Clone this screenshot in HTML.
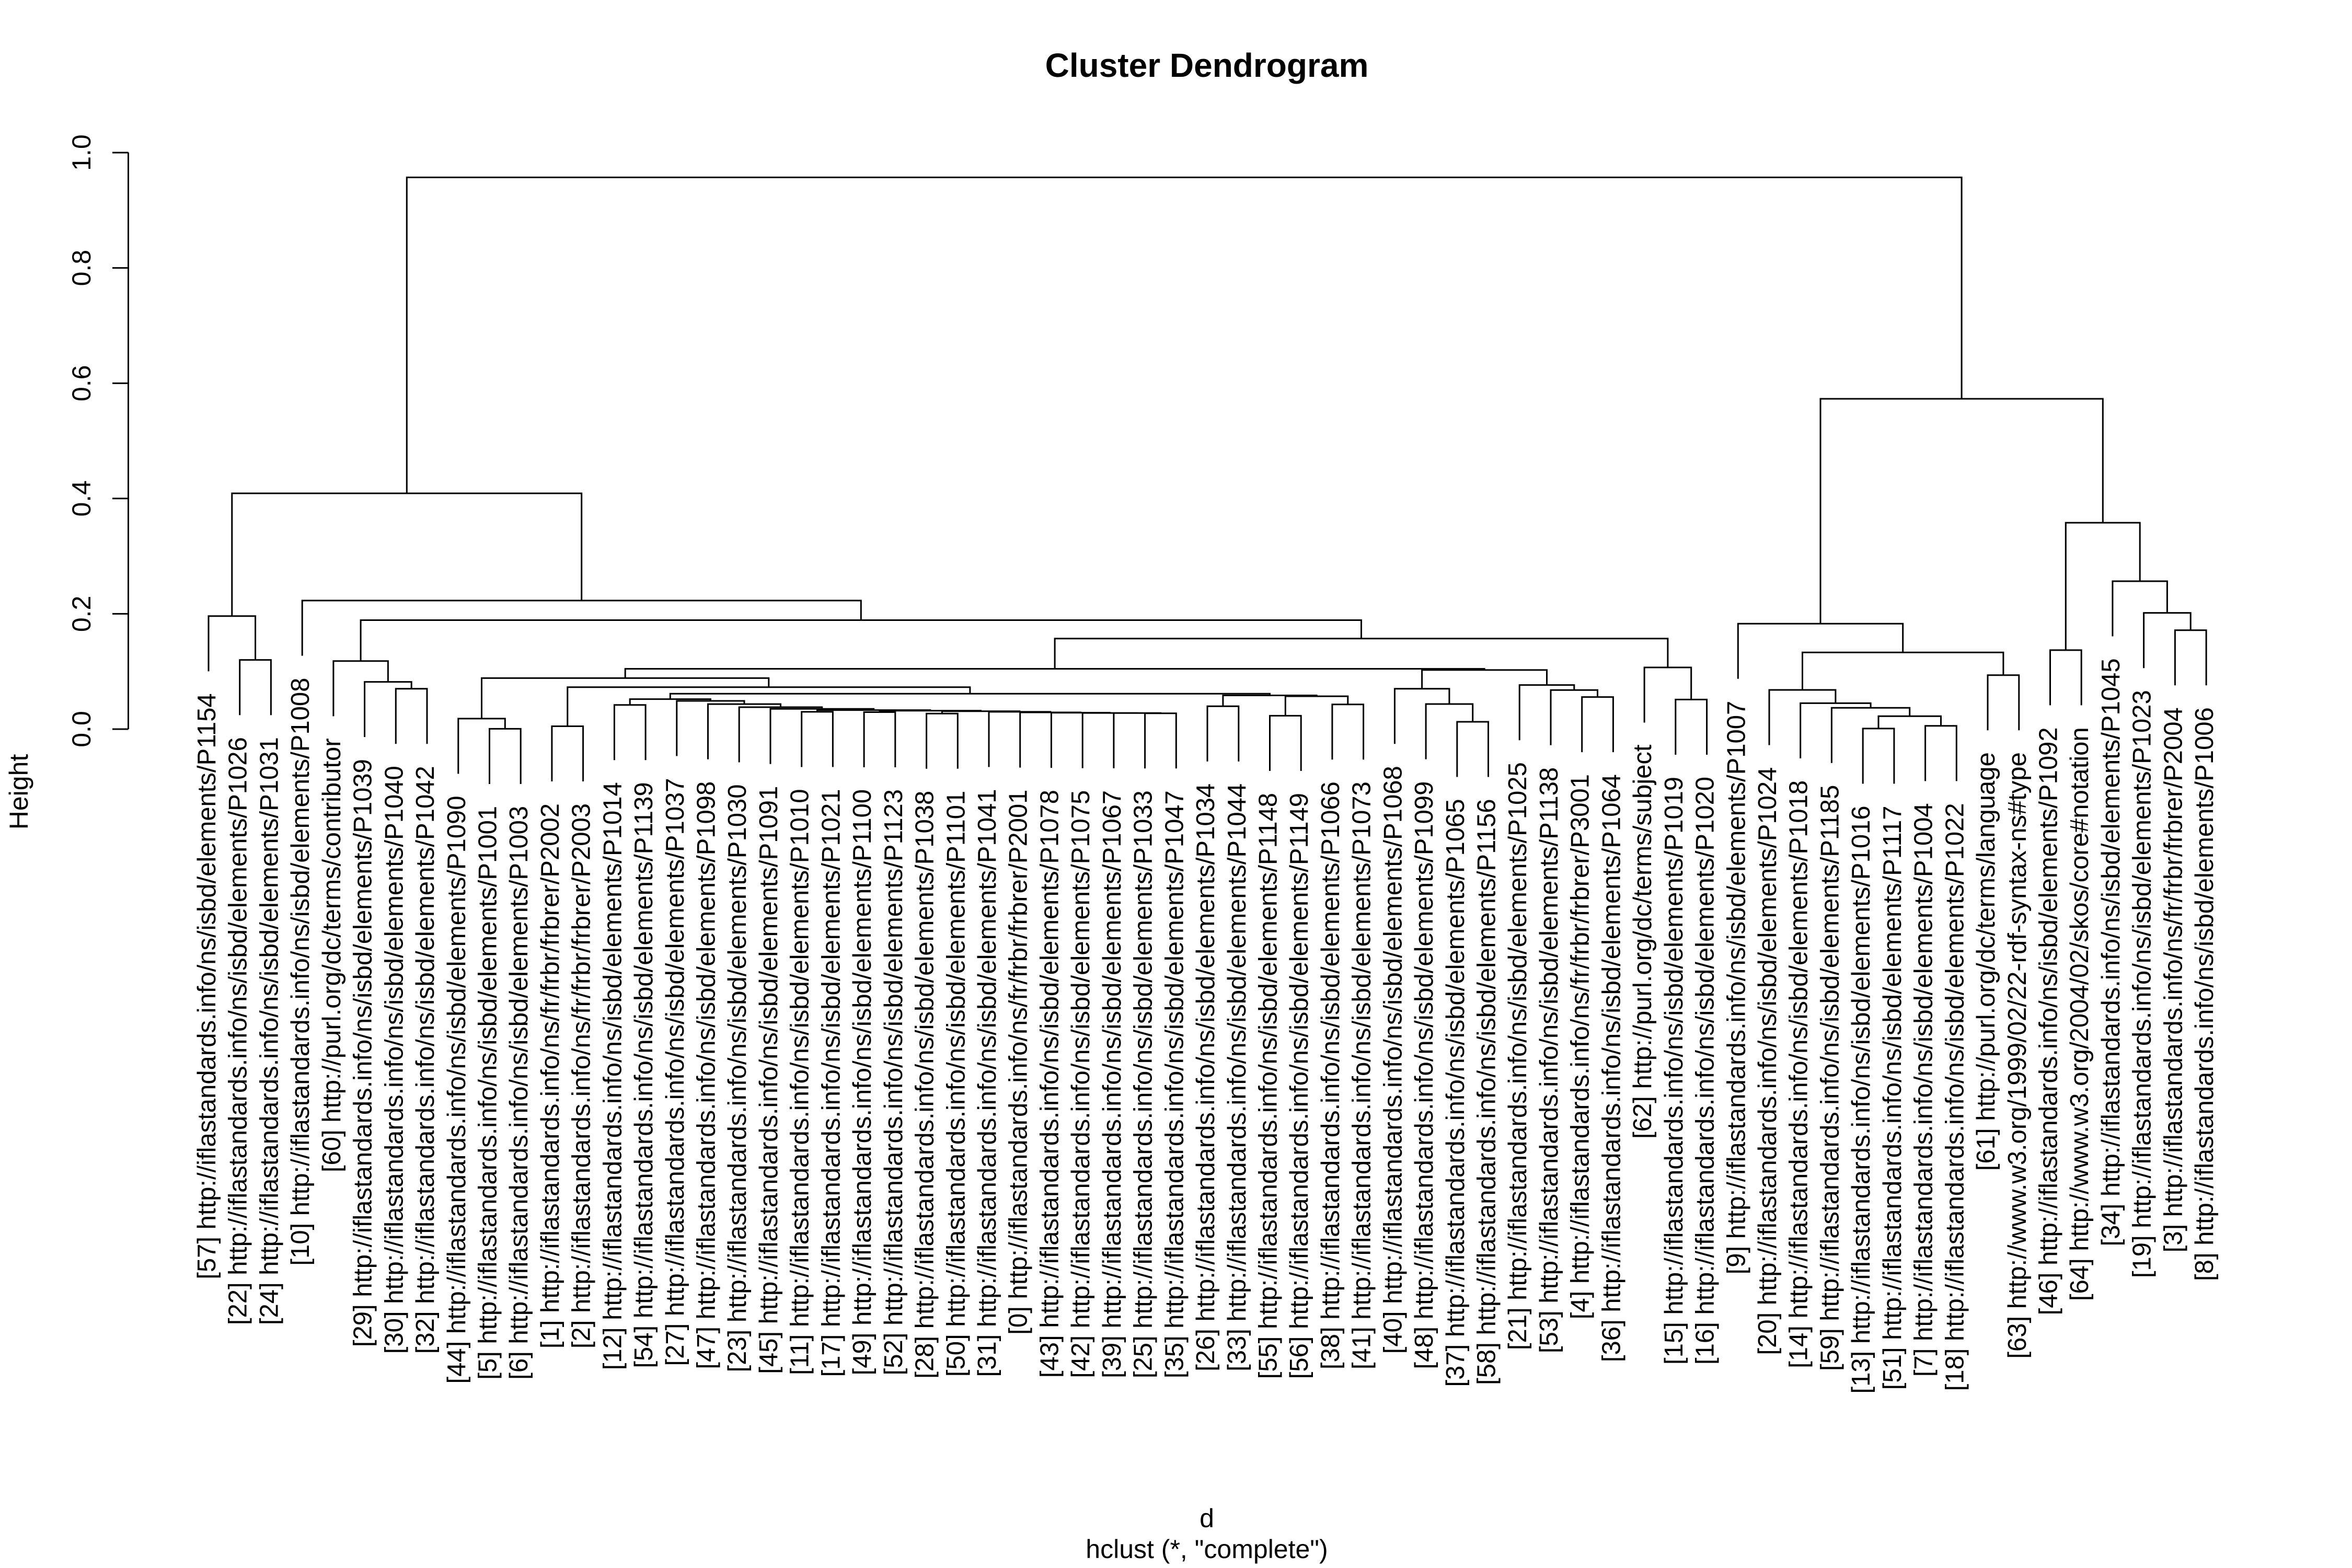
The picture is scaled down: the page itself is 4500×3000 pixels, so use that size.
<!DOCTYPE html>
<html><head><meta charset="utf-8">
<style>
html,body{margin:0;padding:0;background:#fff;}
svg{display:block;}
text{font-family:"Liberation Sans",Arial,sans-serif;fill:#000;}
.lab{font-size:49px;}
.ax{font-size:50px;}
</style></head>
<body>
<svg id="s" width="4500" height="3000" viewBox="0 0 4500 3000" xmlns="http://www.w3.org/2000/svg">
<rect width="4500" height="3000" fill="#fff"/>
<text x="2309" y="147" text-anchor="middle" style="font-size:64px;font-weight:bold">Cluster Dendrogram</text>
<text class="ax" x="2309" y="2922" text-anchor="middle">d</text>
<text class="ax" x="2309" y="2981" text-anchor="middle">hclust (*, "complete")</text>
<text class="ax" text-anchor="middle" transform="translate(53,1515) rotate(-90)">Height</text>
<g stroke="#000" stroke-width="3" fill="none">
<path d="M245.5 1395 V291.7"/>
<path d="M215 1395 H245.5 M215 1174.4 H245.5 M215 953.8 H245.5 M215 733.2 H245.5 M215 512.6 H245.5 M215 292 H245.5"/>
</g>
<text class="ax" text-anchor="middle" transform="translate(173,1395) rotate(-90)">0.0</text>
<text class="ax" text-anchor="middle" transform="translate(173,1174.4) rotate(-90)">0.2</text>
<text class="ax" text-anchor="middle" transform="translate(173,953.8) rotate(-90)">0.4</text>
<text class="ax" text-anchor="middle" transform="translate(173,733.2) rotate(-90)">0.6</text>
<text class="ax" text-anchor="middle" transform="translate(173,512.6) rotate(-90)">0.8</text>
<text class="ax" text-anchor="middle" transform="translate(173,292) rotate(-90)">1.0</text>
<g id="tree" stroke="#000" stroke-width="3" fill="none"></g>
<g id="labels" class="lab" text-anchor="end">
<text>[57] http://iflastandards.info/ns/isbd/elements/P1154</text>
<text>[22] http://iflastandards.info/ns/isbd/elements/P1026</text>
<text>[24] http://iflastandards.info/ns/isbd/elements/P1031</text>
<text>[10] http://iflastandards.info/ns/isbd/elements/P1008</text>
<text>[60] http://purl.org/dc/terms/contributor</text>
<text>[29] http://iflastandards.info/ns/isbd/elements/P1039</text>
<text>[30] http://iflastandards.info/ns/isbd/elements/P1040</text>
<text>[32] http://iflastandards.info/ns/isbd/elements/P1042</text>
<text>[44] http://iflastandards.info/ns/isbd/elements/P1090</text>
<text>[5] http://iflastandards.info/ns/isbd/elements/P1001</text>
<text>[6] http://iflastandards.info/ns/isbd/elements/P1003</text>
<text>[1] http://iflastandards.info/ns/fr/frbr/frbrer/P2002</text>
<text>[2] http://iflastandards.info/ns/fr/frbr/frbrer/P2003</text>
<text>[12] http://iflastandards.info/ns/isbd/elements/P1014</text>
<text>[54] http://iflastandards.info/ns/isbd/elements/P1139</text>
<text>[27] http://iflastandards.info/ns/isbd/elements/P1037</text>
<text>[47] http://iflastandards.info/ns/isbd/elements/P1098</text>
<text>[23] http://iflastandards.info/ns/isbd/elements/P1030</text>
<text>[45] http://iflastandards.info/ns/isbd/elements/P1091</text>
<text>[11] http://iflastandards.info/ns/isbd/elements/P1010</text>
<text>[17] http://iflastandards.info/ns/isbd/elements/P1021</text>
<text>[49] http://iflastandards.info/ns/isbd/elements/P1100</text>
<text>[52] http://iflastandards.info/ns/isbd/elements/P1123</text>
<text>[28] http://iflastandards.info/ns/isbd/elements/P1038</text>
<text>[50] http://iflastandards.info/ns/isbd/elements/P1101</text>
<text>[31] http://iflastandards.info/ns/isbd/elements/P1041</text>
<text>[0] http://iflastandards.info/ns/fr/frbr/frbrer/P2001</text>
<text>[43] http://iflastandards.info/ns/isbd/elements/P1078</text>
<text>[42] http://iflastandards.info/ns/isbd/elements/P1075</text>
<text>[39] http://iflastandards.info/ns/isbd/elements/P1067</text>
<text>[25] http://iflastandards.info/ns/isbd/elements/P1033</text>
<text>[35] http://iflastandards.info/ns/isbd/elements/P1047</text>
<text>[26] http://iflastandards.info/ns/isbd/elements/P1034</text>
<text>[33] http://iflastandards.info/ns/isbd/elements/P1044</text>
<text>[55] http://iflastandards.info/ns/isbd/elements/P1148</text>
<text>[56] http://iflastandards.info/ns/isbd/elements/P1149</text>
<text>[38] http://iflastandards.info/ns/isbd/elements/P1066</text>
<text>[41] http://iflastandards.info/ns/isbd/elements/P1073</text>
<text>[40] http://iflastandards.info/ns/isbd/elements/P1068</text>
<text>[48] http://iflastandards.info/ns/isbd/elements/P1099</text>
<text>[37] http://iflastandards.info/ns/isbd/elements/P1065</text>
<text>[58] http://iflastandards.info/ns/isbd/elements/P1156</text>
<text>[21] http://iflastandards.info/ns/isbd/elements/P1025</text>
<text>[53] http://iflastandards.info/ns/isbd/elements/P1138</text>
<text>[4] http://iflastandards.info/ns/fr/frbr/frbrer/P3001</text>
<text>[36] http://iflastandards.info/ns/isbd/elements/P1064</text>
<text>[62] http://purl.org/dc/terms/subject</text>
<text>[15] http://iflastandards.info/ns/isbd/elements/P1019</text>
<text>[16] http://iflastandards.info/ns/isbd/elements/P1020</text>
<text>[9] http://iflastandards.info/ns/isbd/elements/P1007</text>
<text>[20] http://iflastandards.info/ns/isbd/elements/P1024</text>
<text>[14] http://iflastandards.info/ns/isbd/elements/P1018</text>
<text>[59] http://iflastandards.info/ns/isbd/elements/P1185</text>
<text>[13] http://iflastandards.info/ns/isbd/elements/P1016</text>
<text>[51] http://iflastandards.info/ns/isbd/elements/P1117</text>
<text>[7] http://iflastandards.info/ns/isbd/elements/P1004</text>
<text>[18] http://iflastandards.info/ns/isbd/elements/P1022</text>
<text>[61] http://purl.org/dc/terms/language</text>
<text>[63] http://www.w3.org/1999/02/22-rdf-syntax-ns#type</text>
<text>[46] http://iflastandards.info/ns/isbd/elements/P1092</text>
<text>[64] http://www.w3.org/2004/02/skos/core#notation</text>
<text>[34] http://iflastandards.info/ns/isbd/elements/P1045</text>
<text>[19] http://iflastandards.info/ns/isbd/elements/P1023</text>
<text>[3] http://iflastandards.info/ns/fr/frbr/frbrer/P2004</text>
<text>[8] http://iflastandards.info/ns/isbd/elements/P1006</text>
</g>
</svg>
<script>
(function(){
  var X0=399, DX=59.72, HANG=0.0957;
  function Y(h){return 1395-1103*h;}
  var N30=[30,31,.0275], N29=[29,N30,.0278], N28=[28,N29,.028], N27=[27,N28,.0285],
      N26=[26,N27,.029], N25=[25,N26,.030], N23=[[23,24,.027],N25,.031],
      N21=[[21,22,.0295],N23,.032], N19=[[19,20,.030],N21,.033],
      N18=[18,N19,.0351], N17=[17,N18,.0381], N16=[16,N17,.0434], N15=[15,N16,.049];
  var T=[
    [
      [0,[1,2,.120],.196],
      [3,
        [ [4,[5,[6,7,.070],.082],.118],
          [ [ [ [8,[9,10,.0005],.0182],
                [ [11,12,.005],
                  [ [[13,14,.0419],N15,.052],
                    [[32,33,.0396],[[34,35,.0232],[36,37,.0429],.057],.0585],
                    .0615],
                  .0727],
                .0885],
              [ [38,[39,[40,41,.0127],.0435],.070],[42,[43,[44,45,.0557],.0678],.0765],.1025],
              .1046],
            [46,[47,48,.0513],.107],
            .157],
          .189],
        .223],
      .409],
    [
      [49,[[50,[51,[52,[[53,54,.001],[55,56,.0056],.0224],.037],.045],.068],[57,58,.0936],.133],.183],
      [[59,60,.137],[61,[62,[63,64,.1716],.2016],.2566],.358],
      .573],
    .957];
  var d="", leafBot=[];
  function walk(n){
    if(typeof n==="number") return {x:X0+n*DX, leaf:n};
    var a=walk(n[0]), b=walk(n[1]), h=n[2], yt=Y(h);
    function bot(c){ if(c.leaf!==undefined){var yb=Y(h-HANG); leafBot[c.leaf]=yb; return yb;} return Y(c.h); }
    var ya=bot(a), yb=bot(b);
    d+="M"+a.x.toFixed(1)+" "+ya.toFixed(1)+"V"+yt.toFixed(1)+"H"+b.x.toFixed(1)+"V"+yb.toFixed(1);
    return {x:(a.x+b.x)/2, h:h};
  }
  walk(T);
  var p=document.createElementNS("http://www.w3.org/2000/svg","path");
  p.setAttribute("d",d);
  document.getElementById("tree").appendChild(p);
  var labs=document.getElementById("labels").getElementsByTagName("text");
  for(var i=0;i<labs.length;i++){
    var x=X0+i*DX+13, y=(leafBot[i]||1300)+42;
    labs[i].setAttribute("transform","translate("+x.toFixed(1)+","+y.toFixed(1)+") rotate(-90)");
  }
})();
</script>
</body></html>
